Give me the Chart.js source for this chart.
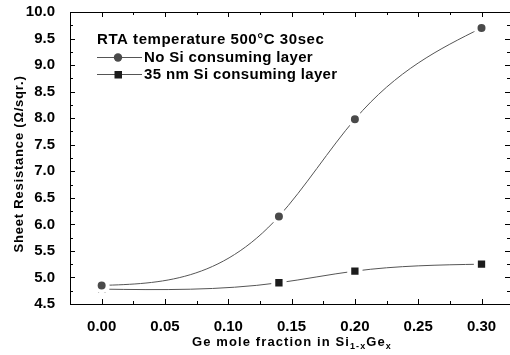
<!DOCTYPE html>
<html>
<head>
<meta charset="utf-8">
<script src="https://cdn.jsdelivr.net/npm/chart.js@4/dist/chart.umd.min.js"></script>
<style>
  html, body { margin: 0; padding: 0; background: #fff; }
  #wrap { width: 510px; height: 355px; }
</style>
</head>
<body>
<div id="wrap"><canvas id="chart"></canvas></div>
<script>
// Ge mole fraction (x) and sheet resistance (ohm/sqr.)
const geFraction = [0, 0.14, 0.20, 0.30];
const noSiLayer = [4.85, 6.15, 7.98, 9.70];
const siLayer35 = [4.78, 4.90, 5.12, 5.25];

const xTickValues = [0, 0.05, 0.10, 0.15, 0.20, 0.25, 0.30];
const yTickValues = [4.5, 5.0, 5.5, 6.0, 6.5, 7.0, 7.5, 8.0, 8.5, 9.0, 9.5, 10.0];

const legendTitle = "RTA temperature 500°C 30sec";
const seriesNames = ["No Si consuming layer", "35 nm Si consuming layer"];

const FONT = "'Liberation Sans', Arial, sans-serif";
const circleColor = "#4a4a4a";
const squareColor = "#1c1c1c";
const lineColor = "#555555";

function toPoints(xs, ys){
    return xs.map((x, i) => ({x: x, y: ys[i]}));
}

// slopes of a natural cubic spline through (xs, ys), like Origin's "Spline" line
function splineSlopes(xs, ys){
    const n = xs.length;
    const h = [], s = [];
    for(let i = 0; i < n - 1; i++){
        h[i] = xs[i + 1] - xs[i];
        s[i] = (ys[i + 1] - ys[i]) / h[i];
    }
    // tridiagonal system for second derivatives, M[0] = M[n-1] = 0
    const M = new Array(n).fill(0);
    const a = [], b = [], c = [], r = [];
    for(let i = 1; i < n - 1; i++){
        a.push(h[i - 1]); b.push(2 * (h[i - 1] + h[i])); c.push(h[i]);
        r.push(6 * (s[i] - s[i - 1]));
    }
    const m = b.length;
    for(let i = 1; i < m; i++){
        const w = a[i] / b[i - 1];
        b[i] -= w * c[i - 1];
        r[i] -= w * r[i - 1];
    }
    for(let i = m - 1; i >= 0; i--){
        const val = (r[i] - (i < m - 1 ? c[i] * M[i + 2] : 0)) / b[i];
        M[i + 1] = val;
    }
    const d = [];
    for(let i = 0; i < n - 1; i++){
        d[i] = s[i] - h[i] * (2 * M[i] + M[i + 1]) / 6;
    }
    d[n - 1] = s[n - 2] + h[n - 2] * (M[n - 2] + 2 * M[n - 1]) / 6;
    return d;
}

// replace Chart.js control points by the spline's bezier handles
const splinePlugin = {
    id: "spline",
    beforeDatasetsDraw(chart){
        const xs = chart.scales.x, ys = chart.scales.y;
        chart.data.datasets.forEach((ds, k) => {
            const meta = chart.getDatasetMeta(k);
            const px = ds.data.map(p => p.x), py = ds.data.map(p => p.y);
            const d = splineSlopes(px, py);
            meta.data.forEach((pt, i) => {
                if(i > 0){
                    const hp = (px[i] - px[i - 1]) / 3;
                    pt.cp1x = xs.getPixelForValue(px[i] - hp);
                    pt.cp1y = ys.getPixelForValue(py[i] - d[i] * hp);
                } else { pt.cp1x = pt.x; pt.cp1y = pt.y; }
                if(i < px.length - 1){
                    const hn = (px[i + 1] - px[i]) / 3;
                    pt.cp2x = xs.getPixelForValue(px[i] + hn);
                    pt.cp2y = ys.getPixelForValue(py[i] + d[i] * hn);
                } else { pt.cp2x = pt.x; pt.cp2y = pt.y; }
            });
            meta.dataset._pointsUpdated = true;
            meta.dataset._path = undefined;
        });
    }
};

// ticks, frame, legend and axis titles drawn by hand
const decorPlugin = {
    id: "decor",
    afterDraw(chart){
        const ctx = chart.ctx;
        const area = chart.chartArea;
        const xs = chart.scales.x, ys = chart.scales.y;

        ctx.save();
        ctx.strokeStyle = "#000";
        ctx.lineWidth = 1;
        ctx.strokeRect(area.left + 0.5, area.top + 0.5, area.right - area.left, area.bottom - area.top);

        ctx.beginPath();
        for(let v = -0.025; v <= 0.33; v += 0.025){
            const major = Math.abs(Math.round(v / 0.05) * 0.05 - v) < 1e-6;
            const len = major ? 5 : 3;
            const px = Math.round(xs.getPixelForValue(v)) + 0.5;
            if(px < area.left + 1 || px > area.right - 1) continue;
            ctx.moveTo(px, area.bottom); ctx.lineTo(px, area.bottom - len);
            ctx.moveTo(px, area.top); ctx.lineTo(px, area.top + len);
        }
        for(let v = 4.5; v <= 10.001; v += 0.25){
            const major = Math.abs(Math.round(v / 0.5) * 0.5 - v) < 1e-6;
            const len = major ? 5 : 3;
            const py = Math.round(ys.getPixelForValue(v)) + 0.5;
            if(py < area.top + 1 || py > area.bottom - 1) continue;
            ctx.moveTo(area.left, py); ctx.lineTo(area.left + len, py);
            ctx.moveTo(area.right, py); ctx.lineTo(area.right - len, py);
        }
        ctx.stroke();

        // legend
        ctx.fillStyle = "#000";
        ctx.textBaseline = "middle";
        ctx.textAlign = "left";
        ctx.font = "bold 15px " + FONT;
        ctx.letterSpacing = "0.55px";
        ctx.fillText(legendTitle, 97, 40);
        ctx.letterSpacing = "0.35px";

        const rows = [57, 74];
        rows.forEach((y, i) => {
            ctx.strokeStyle = lineColor;
            ctx.beginPath();
            ctx.moveTo(97, y + 0.5); ctx.lineTo(142, y + 0.5);
            ctx.stroke();
            if(i === 0){
                ctx.fillStyle = circleColor;
                ctx.beginPath(); ctx.arc(118, y + 0.5, 4.2, 0, Math.PI * 2); ctx.fill();
            } else {
                ctx.fillStyle = squareColor;
                ctx.fillRect(114.5, y - 3, 7.5, 7.5);
            }
            ctx.fillStyle = "#000";
            ctx.fillText(seriesNames[i], 144, y + 1);
        });

        // y title
        ctx.save();
        ctx.translate(19, 164);
        ctx.rotate(-Math.PI / 2);
        ctx.textAlign = "center";
        ctx.font = "bold 13px " + FONT;
        ctx.letterSpacing = "0.8px";
        ctx.fillText("Sheet Resistance (\u03A9/sqr.)", 0, 0);
        ctx.restore();

        // x title with subscripts
        const parts = [
            ["Ge mole fraction in Si", false],
            ["1-x", true],
            ["Ge", false],
            ["x", true]
        ];
        ctx.letterSpacing = "1.1px";
        const mainFont = "bold 13px " + FONT;
        const subFont = "bold 9px " + FONT;
        let total = 0;
        parts.forEach(p => { ctx.font = p[1] ? subFont : mainFont; total += ctx.measureText(p[0]).width; });
        let cx = 292 - total / 2;
        parts.forEach(p => {
            ctx.font = p[1] ? subFont : mainFont;
            ctx.fillText(p[0], cx, p[1] ? 347 : 342);
            cx += ctx.measureText(p[0]).width;
        });
        ctx.restore();
    }
};

new Chart(document.getElementById("chart"), {
    type: "line",
    data: {
        datasets: [
            {
                label: seriesNames[0],
                data: toPoints(geFraction, noSiLayer),
                borderColor: lineColor,
                borderWidth: 1,
                tension: 0.4,
                pointStyle: "circle",
                pointRadius: 6,
                pointBorderWidth: 4,
                pointBackgroundColor: circleColor,
                pointBorderColor: "#fff"
            },
            {
                label: seriesNames[1],
                data: toPoints(geFraction, siLayer35),
                borderColor: lineColor,
                borderWidth: 1,
                tension: 0.4,
                pointStyle: "rect",
                pointRadius: 8,
                pointBorderWidth: 4,
                pointBackgroundColor: squareColor,
                pointBorderColor: "#fff"
            }
        ]
    },
    options: {
        responsive: true,
        maintainAspectRatio: false,
        animation: false,
        layout: { autoPadding: false, padding: { top: 12, right: 0, left: 0, bottom: 0 } },
        plugins: { legend: { display: false }, tooltip: { enabled: false } },
        scales: {
            x: {
                type: "linear",
                min: -0.025,
                max: 0.3225,
                grid: { display: false },
                border: { display: false },
                afterBuildTicks: (scale) => { scale.ticks = xTickValues.map(v => ({value: v})); },
                afterFit: (scale) => {
                    scale.height = 51;
                    scale.paddingLeft = 0; scale.paddingRight = 0;
                },
                ticks: {
                    padding: 6,
                    color: "#000",
                    font: { family: FONT, size: 15, weight: "bold" },
                    callback: (v) => Number(v).toFixed(2)
                }
            },
            y: {
                min: 4.5,
                max: 10.0,
                grid: { display: false },
                border: { display: false },
                afterBuildTicks: (scale) => { scale.ticks = yTickValues.map(v => ({value: v})); },
                afterFit: (scale) => {
                    scale.width = 70;
                    scale.paddingTop = 0; scale.paddingBottom = 0;
                },
                ticks: {
                    padding: 7,
                    color: "#000",
                    font: { family: FONT, size: 15, weight: "bold" },
                    callback: (v) => Number(v).toFixed(1)
                }
            }
        }
    },
    plugins: [splinePlugin, decorPlugin]
});
</script>
</body>
</html>
